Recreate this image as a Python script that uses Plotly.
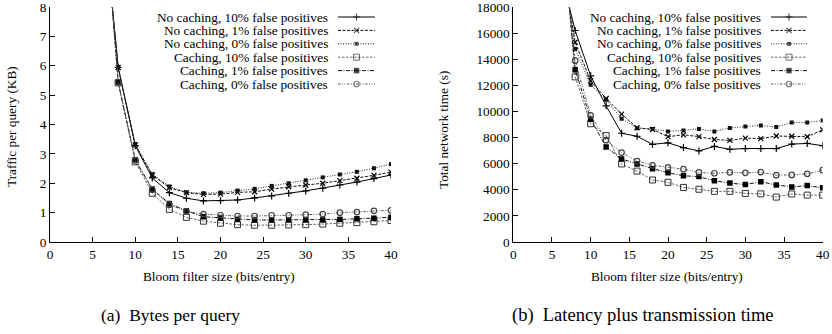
import plotly.graph_objects as go

# ---------------- data ----------------
bloom_bits = [6, 8, 10, 12, 14, 16, 18, 20, 22, 24, 26, 28, 30, 32, 34, 36, 38, 40]

series_names = [
    "No caching, 10% false positives",
    "No caching, 1% false positives",
    "No caching, 0% false positives",
    "Caching, 10% false positives",
    "Caching, 1% false positives",
    "Caching, 0% false positives",
]

# (a) traffic per query (KB)
traffic_nc10 = [11.9, 5.94, 3.28, 2.18, 1.68, 1.49, 1.40, 1.41, 1.43, 1.50, 1.57, 1.66, 1.74, 1.83, 1.94, 2.04, 2.16, 2.28]
traffic_nc1 = [11.9, 5.94, 3.30, 2.28, 1.85, 1.68, 1.62, 1.63, 1.69, 1.71, 1.80, 1.88, 1.94, 2.00, 2.09, 2.17, 2.27, 2.38]
traffic_nc0 = [11.9, 5.96, 3.34, 2.31, 1.89, 1.69, 1.66, 1.68, 1.75, 1.81, 1.91, 2.00, 2.10, 2.20, 2.30, 2.39, 2.51, 2.65]
traffic_c10 = [12.8, 5.42, 2.73, 1.66, 1.11, 0.84, 0.71, 0.64, 0.59, 0.57, 0.57, 0.58, 0.59, 0.61, 0.64, 0.66, 0.69, 0.73]
traffic_c1 = [12.8, 5.44, 2.80, 1.80, 1.31, 1.06, 0.86, 0.82, 0.77, 0.75, 0.75, 0.75, 0.75, 0.75, 0.77, 0.79, 0.81, 0.84]
traffic_c0 = [12.8, 5.44, 2.78, 1.78, 1.27, 1.04, 0.95, 0.91, 0.885, 0.885, 0.91, 0.91, 0.93, 0.95, 1.00, 1.02, 1.06, 1.08]

# (b) total network time (s)
time_nc10 = [20900, 16200, 12730, 10430, 8330, 8100, 7480, 7600, 7230, 6980, 7320, 7100, 7160, 7160, 7160, 7500, 7550, 7380]
time_nc1 = [22400, 15300, 12350, 10990, 9800, 8750, 8620, 8070, 8210, 8070, 7850, 7780, 7960, 7920, 8120, 8100, 8060, 8600]
time_nc0 = [23200, 14780, 12040, 10890, 9450, 8720, 8660, 8470, 8550, 8660, 8470, 8740, 8840, 8930, 8810, 9150, 9150, 9300]
time_c10 = [26700, 12650, 9060, 8150, 5980, 5430, 4750, 4570, 4180, 4040, 3880, 3880, 3720, 3690, 3440, 3680, 3590, 3590]
time_c1 = [25800, 13200, 9400, 7280, 6360, 5980, 5620, 5300, 5070, 5010, 4690, 4510, 4400, 4610, 4370, 4220, 4320, 4150]
time_c0 = [24700, 13890, 9700, 7800, 6850, 6200, 5870, 5710, 5580, 5330, 5265, 5340, 5300, 5350, 5120, 5135, 5220, 5500]

x_ticks = [0, 5, 10, 15, 20, 25, 30, 35, 40]
y_ticks_a = [0, 1, 2, 3, 4, 5, 6, 7, 8]
y_ticks_b = [0, 2000, 4000, 6000, 8000, 10000, 12000, 14000, 16000, 18000]

# ---------------- styles ----------------
FONT = "Liberation Serif"
FS = 13.3
W, H = 832, 334
styles = [
    dict(color="#000000", dash="solid", symbol="cross-thin", size=5, mcolor="#000000", mline=1.2),
    dict(color="#111111", dash="3px,1.5px", symbol="x-thin", size=5, mcolor="#000000", mline=1.2),
    dict(color="#222222", dash="1px,1.5px", symbol="square", size=4, mcolor="#111111", mline=0),
    dict(color="#666666", dash="2.5px,1.5px", symbol="square-open", size=6, mcolor="#333333", mline=1),
    dict(color="#111111", dash="4px,1.5px,1px,1.5px", symbol="square", size=5.5, mcolor="#000000", mline=0),
    dict(color="#555555", dash="2.5px,1.5px,1px,1.5px,1px,1.5px", symbol="circle-open", size=5.5, mcolor="#444444", mline=1.2),
]

fig = go.Figure()

def add_series(xa, ya, ys_list):
    for ys, st, nm in zip(ys_list, styles, series_names):
        fig.add_trace(go.Scatter(
            x=bloom_bits, y=ys, xaxis=xa, yaxis=ya, name=nm, mode="lines+markers",
            line=dict(color=st["color"], width=1, dash=st["dash"]),
            marker=dict(symbol=st["symbol"], size=st["size"], color=st["mcolor"],
                        line=dict(color=st["mcolor"], width=st["mline"])),
            showlegend=False, cliponaxis=True,
        ))

add_series("x", "y", [traffic_nc10, traffic_nc1, traffic_nc0, traffic_c10, traffic_c1, traffic_c0])
add_series("x2", "y2", [time_nc10, time_nc1, time_nc0, time_c10, time_c1, time_c0])

# custom legends (text on the left, sample on the right), in a pixel overlay axis
def add_legend(text_right, x0, x1, y_first, step):
    for i, (st, nm) in enumerate(zip(styles, series_names)):
        yy = y_first + step * i
        xm = (x0 + x1) / 2
        fig.add_trace(go.Scatter(
            x=[x0, xm, x1], y=[yy, yy, yy], xaxis="x3", yaxis="y3", mode="lines+markers",
            line=dict(color=st["color"], width=1, dash=st["dash"]),
            marker=dict(symbol=st["symbol"], size=[0, st["size"], 0], color=st["mcolor"],
                        line=dict(color=st["mcolor"], width=st["mline"])),
            showlegend=False, hoverinfo="skip", cliponaxis=False,
        ))
        fig.add_annotation(x=text_right / W, y=1 - yy / H, xref="paper", yref="paper",
                           text=nm, showarrow=False, xanchor="right", yanchor="middle",
                           font=dict(family=FONT, size=FS, color="black"))

add_legend(330, 338, 375, 17, 13.4)
add_legend(763, 771, 807, 17, 13.4)

# layout
ydom = [(H - 242) / H, (H - 7) / H]
axis_common = dict(showline=True, linecolor="black", linewidth=1, ticks="inside", ticklen=5,
                   tickcolor="black", tickwidth=1, showgrid=False, zeroline=False,
                   automargin=False, ticklabeloverflow="allow",
                   tickfont=dict(family=FONT, size=FS, color="black"))

fig.update_layout(
    width=W, height=H, margin=dict(l=0, r=0, t=0, b=0),
    paper_bgcolor="white", plot_bgcolor="rgba(0,0,0,0)", showlegend=False,
    xaxis=dict(domain=[50 / W, 391 / W], range=[0, 40.001], tickvals=x_ticks, anchor="y", **axis_common),
    yaxis=dict(domain=ydom, range=[0, 8.0005], tickvals=y_ticks_a, anchor="x", **axis_common),
    xaxis2=dict(domain=[513.3 / W, 822.7 / W], range=[0, 40.001], tickvals=x_ticks, anchor="y2", **axis_common),
    yaxis2=dict(domain=ydom, range=[0, 18001], tickvals=y_ticks_b, tickformat="d", anchor="x2", **axis_common),
    xaxis3=dict(domain=[0, 1], range=[0, W], visible=False, anchor="y3", fixedrange=True, automargin=False),
    yaxis3=dict(domain=[0, 1], range=[H, 0], visible=False, anchor="x3", fixedrange=True, automargin=False),
)

def ann(x, y, text, size=FS, angle=0):
    fig.add_annotation(x=x / W, y=1 - y / H, xref="paper", yref="paper", text=text,
                       showarrow=False, xanchor="center", yanchor="middle", textangle=angle,
                       font=dict(family=FONT, size=size, color="black"))

ann(219.5, 276.5, "Bloom filter size (bits/entry)")
ann(667, 276.5, "Bloom filter size (bits/entry)")
ann(12, 127, "Traffic per query (KB)", angle=-90)
ann(443, 130, "Total network time (s)", angle=-90)
ann(170, 315, "(a)  Bytes per query", size=17.5)
ann(643, 315, "(b)  Latency plus transmission time", size=18.5)

fig.write_html("out.html", config={"displayModeBar": False},
               post_script="document.body.style.margin='0';document.body.style.overflow='hidden';")
